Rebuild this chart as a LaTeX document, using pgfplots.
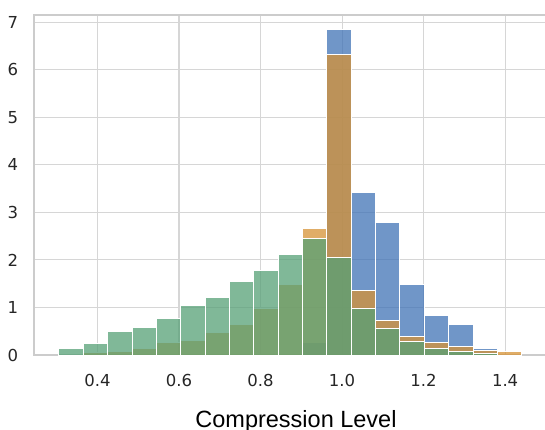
\documentclass[border=0pt]{standalone}
\usepackage{pgfplots}
\pgfplotsset{compat=1.18}
\usepackage{fontspec}
\setmainfont{DejaVu Sans}
\newfontfamily\labelfont{Liberation Sans}
\definecolor{gridc}{RGB}{214,214,214}
\definecolor{spinec}{RGB}{204,204,204}
\definecolor{tickc}{RGB}{38,38,38}
\definecolor{cblue}{RGB}{64,115,182}
\definecolor{corange}{RGB}{214,146,52}
\definecolor{cgreen}{RGB}{86,160,118}
\begin{document}
\begin{tikzpicture}
\useasboundingbox (-17.15pt,-37pt) rectangle (255.35pt,177.5pt);
\clip (-17.15pt,-37pt) rectangle (255.35pt,177.5pt);
\begin{axis}[
  at={(0pt,0pt)}, anchor=south west,
  scale only axis, width=261.7pt, height=169.75pt,
  xmin=0.245, xmax=1.529, ymin=0, ymax=7.14,
  xtick={0.4,0.6,0.8,1.0,1.2,1.4},
  xticklabels={0.4,0.6,0.8,1.0,1.2,1.4},
  ytick={0,1,2,3,4,5,6,7},
  /pgf/number format/assume math mode=true,
  grid=major,
  major grid style={color=gridc, line width=0.55pt},
  axis line style={color=spinec, line width=1pt},
  major tick length=0pt,
  tick label style={font=\fontsize{8.25}{10}\selectfont, text=tickc},
  xticklabel style={anchor=north, yshift=-6.25pt},
  yticklabel style={anchor=east, xshift=-4.55pt},
]
\addplot[ybar interval, fill=cblue, fill opacity=0.75, draw=white, line width=0.5pt] coordinates {
(0.9030,0.26)(0.96275,6.84)(1.0225,3.42)(1.08225,2.79)(1.1420,1.48)(1.20175,0.84)(1.2615,0.65)(1.32125,0.14)(1.3810,0)
};
\addplot[ybar interval, fill=corange, fill opacity=0.75, draw=white, line width=0.5pt] coordinates {
(0.36525,0.05)(0.4250,0.08)(0.48475,0.13)(0.5445,0.26)(0.60425,0.30)(0.6640,0.48)(0.72375,0.65)(0.7835,0.98)(0.84325,1.49)(0.9030,2.67)(0.96275,6.33)(1.0225,1.35)(1.08225,0.72)(1.1420,0.39)(1.20175,0.27)(1.2615,0.18)(1.32125,0.09)(1.3810,0.07)(1.44075,0)
};
\addplot[ybar interval, fill=cgreen, fill opacity=0.75, draw=white, line width=0.5pt] coordinates {
(0.3055,0.14)(0.36525,0.24)(0.4250,0.49)(0.48475,0.58)(0.5445,0.77)(0.60425,1.04)(0.6640,1.21)(0.72375,1.54)(0.7835,1.77)(0.84325,2.11)(0.9030,2.45)(0.96275,2.05)(1.0225,0.98)(1.08225,0.56)(1.1420,0.28)(1.20175,0.13)(1.2615,0.07)(1.32125,0.03)(1.3810,0)
};
\end{axis}
\node[anchor=base, font=\labelfont\fontsize{11.75}{14}\selectfont, text=black] at (130.85pt,-36pt) {Compression Level};
\end{tikzpicture}
\end{document}
